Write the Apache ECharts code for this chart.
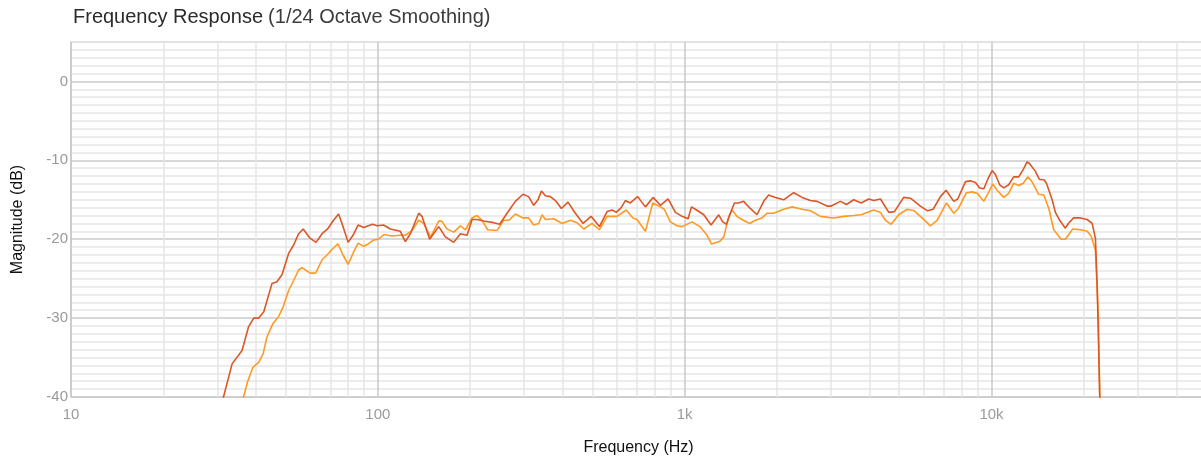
<!DOCTYPE html>
<html>
<head>
<meta charset="utf-8">
<script src="https://cdn.jsdelivr.net/npm/echarts@6/dist/echarts.min.js"></script>
<style>
html,body{margin:0;padding:0;background:#fff;}
#chart{width:1201px;height:461px;}
</style>
</head>
<body>
<div id="chart"></div>
<script>
// ---- data ----
const titleMain = 'Frequency Response';
const titleSub = '(1/24 Octave Smoothing)';
const xName = 'Frequency (Hz)';
const yName = 'Magnitude (dB)';

const xMajorTicks = [10, 100, 1000, 10000];
const xTickLabels = ['10', '100', '1k', '10k'];
const xMinorTicks = [20,30,40,50,60,70,80,90,200,300,400,500,600,700,800,900,
  2000,3000,4000,5000,6000,7000,8000,9000,20000,30000,40000];

const redFreq = [30.5,31.4,33.5,36.1,37.9,39.4,40.9,42.5,45.2,46.9,48.7,51.2,53.2,55.2,57.1,60.2,62.9,65.8,68.6,71.7,74.5,77.0,80.0,83.0,86.2,89.9,96.1,99.4,104.4,109.8,118.4,122.9,127.6,135.9,139.3,147.5,157.9,166,176.7,185.8,195.3,202.8,210.5,221.3,238.5,249.5,263.6,280.6,297.3,310,322,332.7,341.3,351.6,365,379,396.5,416.6,440.2,466.5,495.4,527.4,558.6,580,598.8,621,640.6,665,702.7,744.7,789,833.4,883,932.6,980.6,1026,1052,1084,1154,1219,1291,1330,1368,1409,1452,1500,1556,1636,1721,1809,1878,1975,2102,2265,2414,2569,2701,2912,3000,3219,3366,3556,3759,3981,4131,4345,4626,4826,5172,5440,5862,6194,6452,6814,7112,7532,7760,8226,8535,8862,9153,9440,9747,10050,10297,10634,10958,11376,11810,12265,12670,13060,13300,13900,14320,14860,15100,15760,16150,16680,17400,17800,18520,19490,20490,21280,21810,22100,22530,22800];
const redDb = [-43,-40,-35.8,-34.1,-31.1,-30.0,-30.0,-29.2,-25.6,-25.4,-24.5,-21.8,-20.7,-19.3,-18.7,-19.9,-20.4,-19.3,-18.7,-17.6,-16.8,-18.4,-20.4,-19.5,-18.2,-18.5,-18.1,-18.3,-18.2,-18.7,-19.0,-20.3,-19.3,-16.7,-17.1,-20.0,-18.4,-19.7,-20.4,-19.3,-19.5,-17.5,-17.5,-17.7,-17.9,-18.1,-16.7,-15.2,-14.3,-14.6,-15.7,-15.0,-13.9,-14.5,-14.6,-15.1,-16.1,-15.3,-16.7,-18.0,-17.1,-18.4,-16.5,-16.3,-16.6,-16.0,-15.1,-15.4,-14.6,-15.9,-14.7,-15.7,-14.9,-16.6,-17.1,-17.4,-15.9,-16.2,-16.9,-18.2,-16.9,-17.8,-18.1,-16.7,-15.4,-15.4,-15.2,-16.1,-16.9,-15.2,-14.4,-14.7,-15.0,-14.1,-14.7,-15.1,-15.2,-15.8,-15.8,-15.2,-15.6,-15.0,-15.4,-14.9,-15.1,-14.9,-16.6,-16.5,-14.7,-14.8,-15.8,-16.4,-16.2,-14.6,-13.8,-15.2,-14.9,-12.7,-12.6,-12.8,-13.5,-13.6,-12.3,-11.3,-11.8,-13.1,-13.5,-13.1,-12.1,-12.1,-11.2,-10.2,-10.4,-11.4,-12.4,-12.5,-12.9,-15.0,-16.6,-17.6,-18.6,-18.0,-17.3,-17.3,-17.5,-18.0,-19.9,-26,-40,-60];

const orangeFreq = [35.8,36.5,37.6,39.2,40.9,42.3,43.5,45.5,47.5,49.1,51.2,53.2,55.2,56.6,60.2,62.7,65.8,68.3,70.9,74.1,77.0,80.0,83.0,86.2,89.9,93,96.9,100.5,104.9,111,118.4,122.9,129.3,135.9,141,148.6,157.9,161.5,168.1,176.7,185.8,192.9,202.8,210.5,218.6,228,244.6,257.3,267.6,280.6,297.3,310,322,334.5,343,351.6,374,398.6,424.2,445.7,468.6,499,527,558.6,601.6,645,678,699,744.7,787,833,858,898,944,980,1057,1121,1183,1222,1298,1341,1392,1427,1480,1536,1628,1699,1787,1856,1950,2102,2240,2414,2569,2769,3050,3300,3556,3759,3931,4131,4345,4508,4707,4984,5309,5600,5937,6321,6647,7129,7532,7800,8281,8646,9000,9432,9800,10090,10430,10958,11376,11810,12265,12700,13120,13500,14250,14800,15370,15950,16860,17400,18390,19490,20490,21120,21810,22300,22530,22800];
const orangeDb = [-42,-40,-38.1,-36.2,-35.6,-34.5,-32.4,-30.7,-29.8,-28.6,-26.5,-25.2,-23.9,-23.6,-24.3,-24.3,-22.6,-22.0,-21.3,-20.6,-22.0,-23.2,-21.8,-20.5,-20.9,-20.6,-20.1,-20.0,-19.4,-19.6,-19.5,-19.5,-18.9,-17.6,-18.0,-19.7,-17.7,-17.7,-18.7,-19.1,-18.3,-18.8,-17.3,-17.0,-17.6,-18.8,-18.9,-17.6,-17.6,-16.8,-17.3,-17.3,-18.2,-18.0,-16.9,-17.5,-17.4,-18.0,-17.6,-17.9,-18.7,-18.0,-18.8,-17.1,-17.1,-16.3,-17.3,-17.5,-19.0,-15.4,-15.9,-16.2,-17.8,-18.3,-18.4,-17.8,-18.4,-19.5,-20.6,-20.3,-19.7,-17.1,-16.3,-17.1,-17.5,-18.0,-17.6,-17.3,-16.7,-16.7,-16.2,-15.9,-16.2,-16.4,-17.1,-17.3,-17.1,-17.0,-16.9,-16.6,-16.3,-16.6,-17.6,-18.1,-16.9,-16.2,-16.4,-17.3,-18.3,-17.6,-15.4,-16.7,-16.1,-14.1,-14.0,-14.2,-15.2,-14.0,-13.0,-13.8,-14.7,-14.2,-12.9,-13.2,-12.9,-12.1,-12.6,-14.3,-14.4,-16.1,-18.8,-20.0,-20.0,-18.7,-18.8,-19.0,-19.6,-21.4,-30,-40,-60];

const zip = (a, b) => a.map((v, i) => [v, b[i]]);

const chart = echarts.init(document.getElementById('chart'), null, {renderer: 'canvas'});
const minorColors = ['#cbcbcb','#e6e6e6','#e6e6e6','#e6e6e6','#e6e6e6','#e6e6e6','#e6e6e6','#e6e6e6','#e6e6e6','#e6e6e6'];
const fontFam = '"Liberation Sans", Arial, Helvetica, sans-serif';

chart.setOption({
  animation: false,
  backgroundColor: '#fff',
  title: {
    text: '{a|' + titleMain + '} {b|' + titleSub + '}',
    left: 68, top: 2,
    textStyle: {
      fontWeight: 'normal',
      rich: {
        a: {fontSize: 20, color: '#2b2b2b', fontFamily: fontFam, fontWeight: 'normal'},
        b: {fontSize: 20, color: '#3c3c3c', fontFamily: fontFam, fontWeight: 'normal'}
      }
    }
  },
  grid: {left: 71, right: -5, top: 42, bottom: 64, outerBoundsMode: 'none', containLabel: false,
         show: true, borderColor: '#c8c8c8', borderWidth: 1.5, backgroundColor: 'transparent'},
  xAxis: {
    type: 'log', logBase: 10, min: 10, max: 50000,
    name: xName, nameLocation: 'middle', nameGap: 43,
    nameTextStyle: {fontSize: 16, color: '#111', fontFamily: fontFam},
    axisLine: {show: false},
    axisTick: {show: false},
    axisLabel: {
      fontSize: 15, color: '#9a9a9a', fontFamily: fontFam, margin: 10,
      formatter: v => { const i = xMajorTicks.indexOf(Math.round(v)); return i >= 0 ? xTickLabels[i] : ''; }
    },
    splitLine: {show: true, lineStyle: {color: '#c8c8c8', width: 1.5}}
  },
  yAxis: {
    type: 'value', min: -40, max: 5, interval: 1,
    name: yName, nameLocation: 'middle', nameGap: 45, nameRotate: 90,
    nameTextStyle: {fontSize: 16, color: '#111', fontFamily: fontFam},
    axisLine: {show: false},
    axisTick: {show: false},
    axisLabel: {
      fontSize: 15, color: '#9a9a9a', fontFamily: fontFam, margin: 3,
      formatter: v => (Math.round(v) % 10 === 0 ? String(Math.round(v)) : '')
    },
    splitLine: {show: true, lineStyle: {color: minorColors, width: 1.5}}
  },
  series: [
    {
      type: 'line', data: [], z: 1, silent: true,
      markLine: {
        silent: true, symbol: ['none', 'none'], z: 1,
        label: {show: false},
        lineStyle: {color: '#e6e6e6', width: 1.5, type: 'solid'},
        emphasis: {disabled: true},
        data: xMinorTicks.map(v => ({xAxis: v}))
      }
    },
    {
      name: 'B', type: 'line', data: zip(orangeFreq, orangeDb), showSymbol: false, z: 3,
      lineStyle: {color: '#ff9a23', width: 1.6}, itemStyle: {color: '#ff9a23'}, clip: true
    },
    {
      name: 'A', type: 'line', data: zip(redFreq, redDb), showSymbol: false, z: 3,
      lineStyle: {color: '#dc5628', width: 1.6}, itemStyle: {color: '#dc5628'}, clip: true
    }
  ]
});
</script>
</body>
</html>
